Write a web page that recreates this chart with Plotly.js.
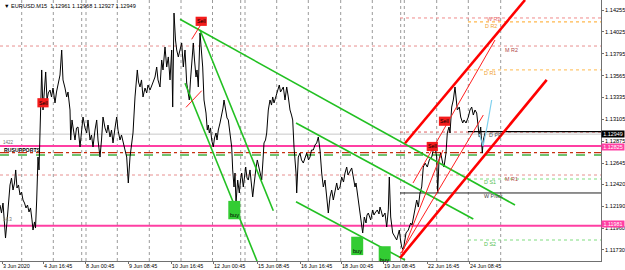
<!DOCTYPE html>
<html><head><meta charset="utf-8">
<script src="https://cdn.plot.ly/plotly-3.0.1.min.js"></script>
<style>html,body{margin:0;padding:0;background:#fff;}#chart{width:625px;height:270px;}</style>
</head><body><div id="chart"></div>
<script>
// ---- price series (bar position, close) ----
const barX = [
0,1.5,3,4.5,5.5,7,8.5,10,11.5,13,
14.5,15.7,17,18.5,20,21.5,23,24.5,26,27.5,
29,30.5,32,33,34.5,35.5,36.7,38,39,40,
41.7,43,44,45.7,47,48.3,50,51.5,53,55,
56.5,58.3,60,61.7,63,65,66.7,68,70,70.7,
72,73,75,76.5,78,80,81.5,83,85,86.7,
88,90,91.5,93,95,96.7,98,100,101.5,103,
105,106.7,108,110,111.5,113,115,116.7,118,120,
121.5,123,125,126.7,128.3,130,131.5,133,135,137.3,
138.5,140,141.5,143,145,146.7,148,150,
152,155,156.7,158,160,161.7,163,165,166.7,168.3,
170,171.7,172.7,174,175.5,176.7,178.3,180,181.7,183.3,
185,186.7,188,189.3,190.5,191.7,193.3,194.5,196,197,
198.3,200,201.7,202.7,204,206,207.3,208.3,209.3,210.5,
211.7,213.3,214.5,216,217,218.3,220,221.7,223,224,
225,226,227,228.3,230,231.7,232.7,234,235,236,
237.7,239.3,240.5,241.7,243.3,244.5,245.7,247,248.3,250,
251.5,252.7,254,255,256,257.3,258.5,260,261.7,263,
264,265.5,266.7,268.3,270,271.5,272.7,274,275,276.7,
278,279.3,280.5,281.7,283.3,285,286.7,288.3,290,291.5,
292.7,294,295,296,296.7,298.3,300,
301.5,303.3,305,306.7,308.5,310,311.5,313.3,315,316.7,
318.3,320,321.7,323.3,325,326.7,328.3,330,331.7,333.3,
335,336.7,338,340,341.7,343.5,345,346.7,348,349.3,
351.7,353.3,355,356,357.3,359.3,361,362.7,364.3,366,
367,368.3,370,370.7,372.7,374,375,377.3,379,380,
381.5,382.7,385,386.7,388.3,389.3,390.7,392.7,395,396.7,
398,399.3,400.5,401.7,403.3,405,406,408.3,410.7,412,
413.3,415,416.7,418.3,420,421.7,423.3,425,427.3,429.3,
431.7,433.3,435,436.7,437.7,439,440.7,442.7,444,446,
447.3,449,450,
451.7,453.3,455,456,457.3,459.3,460.7,462.7,464,466,
468.3,470,471.7,473.3,475,476.7,478.3,479.3,480.7,481.7,
482.3,483.3,485
];
const closePrice = [
1.12203,1.12119,1.12224,1.11993,1.11856,1.12025,1.12256,1.12414,1.12487,1.12361,
1.12435,1.12572,1.12382,1.12414,1.12309,1.12340,1.12256,1.12224,1.12172,1.12203,
1.12130,1.12172,1.12046,1.11940,1.12025,1.11961,1.12256,1.12708,1.12572,1.12961,
1.13624,1.13203,1.13361,1.13603,1.13308,1.13382,1.13413,1.13340,1.13434,1.13277,
1.13392,1.13487,1.13571,1.13834,1.13519,1.13434,1.13340,1.13392,1.13203,1.12887,
1.13098,1.13024,1.12887,1.13014,1.13024,1.12814,1.12992,1.13129,1.13014,1.12961,
1.13098,1.12887,1.12940,1.12814,1.12992,1.13098,1.12887,1.12708,1.12887,1.13129,
1.13014,1.12961,1.13045,1.12919,1.12992,1.12856,1.13014,1.13129,1.12992,1.12887,
1.12940,1.12856,1.12782,1.12708,1.12435,1.12708,1.12835,1.12961,1.13340,1.13624,
1.13497,1.13445,1.13519,1.13340,1.13434,1.13382,1.13466,1.13413,
1.13466,1.13550,1.13655,1.13519,1.13445,1.13729,1.13624,1.13866,1.13655,1.13761,
1.13519,1.13834,1.13234,1.14223,1.13939,1.13834,1.13761,1.13834,1.13908,1.13655,
1.13834,1.13487,1.13361,1.13308,1.13519,1.13729,1.13908,1.13729,1.13550,1.13624,
1.13445,1.14013,1.13834,1.13655,1.13308,1.13171,1.12992,1.13045,1.12961,1.13014,
1.12887,1.12814,1.12908,1.12961,1.12887,1.12992,1.13066,1.13150,1.13224,1.13308,
1.13255,1.13203,1.13119,1.13098,1.12919,1.12814,1.12572,1.12393,1.12540,1.12224,
1.12466,1.12330,1.12466,1.12540,1.12393,1.12519,1.12603,1.12487,1.12466,1.12572,
1.12414,1.12288,1.12414,1.12540,1.12593,1.12677,1.12624,1.12572,1.12466,1.12677,
1.12856,1.12887,1.12961,1.13203,1.13308,1.13255,1.13340,1.13277,1.13308,1.13382,
1.13413,1.13466,1.13392,1.13413,1.13445,1.13308,1.13445,1.13340,1.13203,1.13150,
1.13098,1.12814,1.12677,1.12540,1.12330,1.12708,1.12750,
1.12677,1.12645,1.12698,1.12750,1.12677,1.12708,1.12782,1.12782,1.12835,1.12856,
1.12919,1.12782,1.12540,1.12393,1.12466,1.12256,1.12119,1.12288,1.12361,1.12256,
1.12361,1.12435,1.12361,1.12393,1.12498,1.12445,1.12540,1.12603,1.12519,1.12540,
1.12593,1.12498,1.12393,1.12435,1.12330,1.12182,1.12046,1.11909,1.12077,1.12014,
1.12098,1.12119,1.12067,1.12046,1.12151,1.12098,1.12119,1.12151,1.12109,1.12182,
1.12130,1.12077,1.12119,1.11972,1.12151,1.12498,1.12077,1.11909,1.11867,1.11835,
1.11888,1.11940,1.11835,1.11762,1.11730,1.11835,1.11909,1.11940,1.12014,1.11993,
1.12077,1.12151,1.12256,1.12182,1.12330,1.12393,1.12603,1.12645,1.12603,1.12677,
1.12708,1.12782,1.12814,1.12708,1.12330,1.12677,1.12750,1.12645,1.12603,1.12750,
1.12961,1.13024,1.12961,
1.13234,1.13308,1.13445,1.13340,1.13203,1.13234,1.13129,1.13066,1.13098,1.13066,
1.13129,1.13203,1.13234,1.13150,1.13203,1.13171,1.13024,1.12919,1.13024,1.12814,
1.12750,1.12887,1.12961
];

// ---- axes ----
const timeTickPos = [2,43,85,128,171,213,257,300,341,383,427,469];
const timeTickLabels = ['3 Jun 2020','4 Jun 16:45','8 Jun 00:45','9 Jun 08:45','10 Jun 16:45','12 Jun 00:45','15 Jun 08:45','16 Jun 16:45','18 Jun 00:45','19 Jun 08:45','22 Jun 16:45','24 Jun 08:45'];
const gridPos = [21.7,53.3,81.7,86,117.3,149.3,181,212.5,240.7,245,276.7,308.3,340.7,372.3,400.7,404.3,436.7,468.3,500.7];
const priceTicks = [1.14255,1.14025,1.13795,1.13565,1.13335,1.13105,1.12875,1.12645,1.12420,1.12190,1.11960,1.11730];

// ---- horizontal levels ----
const levelNames  = ['W R2','D R2','M R2','D R1','D PP','PP line','Bid','Res','DashR','DashG','M R1','D S1','W Pivot','Sup','D S2'];
const levelPrice  = [1.14171,1.14129,1.13876,1.13624,1.12971,1.12975,1.12949,1.12825,1.12754,1.12730,1.12519,1.12477,1.12330,1.11985,1.11835];
const levelStart  = [400,468,0,468,400,468,0,0,0,0,0,468,400,0,468];
const levelStyle  = [
 {c:'#f08a8a',w:1,d:'dot'},{c:'#ffb84d',w:1.2,d:'dot'},{c:'#e89090',w:1,d:'dot'},{c:'#ffc870',w:1.2,d:'dot'},
 {c:'#e06060',w:1,d:'dot'},{c:'#000000',w:1.3,d:'solid'},{c:'#c8c8c8',w:1,d:'solid'},{c:'#ff3fa3',w:2,d:'solid'},
 {c:'#c83010',w:1.4,d:'dashdot'},{c:'#40b040',w:1.4,d:'dash'},{c:'#e89090',w:1,d:'dot'},{c:'#80dd80',w:1.2,d:'dot'},
 {c:'#202020',w:1,d:'solid'},{c:'#ff3fa3',w:2,d:'solid'},{c:'#80dd80',w:1.2,d:'dot'}
];
const levelLabels = [
 {i:0,t:'W R2',x:485,c:'#e86a6a',s:-1.2},{i:1,t:'D R2',x:483,c:'#f0a030',s:-4.5},{i:2,t:'M R2',x:503,c:'#b04848',s:-3.5},
 {i:3,t:'D R1',x:482,c:'#f0a030',s:-3.5},{i:4,t:'D PP',x:487,c:'#505050',s:-3},{i:10,t:'M R1',x:503,c:'#b04848',s:-3.5},
 {i:11,t:'D S1',x:482,c:'#50c050',s:-3.5},{i:12,t:'W Pivot',x:482,c:'#404040',s:-3.5},{i:14,t:'D S2',x:482,c:'#50c050',s:-3.5}
];

// ---- trend lines [x0, p0, x1, p1] ----
const greenLines = [[180,1.14157,515,1.12203],[200,1.14045,273.3,1.12143],[185,1.13484,257,1.11614],[296,1.13066,473.3,1.12056],[296,1.12238,405,1.11625]];
const redThick = [[405,1.12853,525,1.14360],[400,1.11646,546.7,1.13519]];
const redThin = [[413,1.12435,495,1.13939],[401,1.11698,483.3,1.13150],[402,1.11698,443,1.12782],[191.7,1.13947,203.3,1.14142],[186,1.13231,201.7,1.13406]];
const cyanX = [479.3,483,487,491.7];
const cyanPrice = [1.12950,1.12824,1.13024,1.13308];

// ---- signals ----
const sellX = [43,201.2,432.3,444.5];
const sellPrice = [1.13279,1.14136,1.12819,1.13085];
const buyX = [234.3,357.2,384.7];
const buyPrice = [1.12150,1.11773,1.11673];

const FONT = 'Liberation Sans, Arial, sans-serif';
const traces = [];
function seg(l, color, width){
  traces.push({x:[l[0],l[2]], y:[l[1],l[3]], mode:'lines', line:{color:color,width:width}, hoverinfo:'skip', showlegend:false});
}
traces.push({x:barX, y:closePrice, mode:'lines', line:{color:'#000',width:1}, hoverinfo:'skip', showlegend:false});
greenLines.forEach(l=>seg(l,'#22c022',1.6));
redThin.forEach(l=>seg(l,'#ff2020',1));
redThick.forEach(l=>seg(l,'#ff0000',2.6));
traces.push({x:cyanX, y:cyanPrice, mode:'lines', line:{color:'#7fd0ee',width:1.2}, hoverinfo:'skip', showlegend:false});

const shapes = [];
gridPos.forEach(g=>shapes.push({type:'line',xref:'x',yref:'paper',x0:g,x1:g,y0:0,y1:1,line:{color:'#9a9a9a',width:1,dash:'dot'},layer:'below'}));
levelPrice.forEach((p,i)=>shapes.push({type:'line',xref:'x',yref:'y',x0:levelStart[i],x1:601,y0:p,y1:p,line:{color:levelStyle[i].c,width:levelStyle[i].w,dash:levelStyle[i].d},layer:'below'}));
const ppx = 0.000105;
sellX.forEach((x,i)=>shapes.push({type:'rect',xref:'x',yref:'y',x0:x-5.6,x1:x+5.6,y0:sellPrice[i]-4.6*ppx,y1:sellPrice[i]+4.6*ppx,fillcolor:'#f41c1c',line:{width:0},layer:'above'}));
buyX.forEach((x,i)=>shapes.push({type:'rect',xref:'x',yref:'y',x0:x-6,x1:x+6,y0:buyPrice[i]-9.2*ppx,y1:buyPrice[i]+9.2*ppx,fillcolor:'#33cc33',line:{width:0},layer:'above'}));

const ann = [];
ann.push({xref:'paper',yref:'paper',x:0.003,y:0.995,xanchor:'left',yanchor:'top',showarrow:false,text:'▼ EURUSD.M15  1.12961 1.12968 1.12927 1.12949',font:{family:FONT,size:5.6,color:'#000'}});
levelLabels.forEach(L=>ann.push({x:L.x,y:levelPrice[L.i],yshift:L.s,xanchor:'left',yanchor:'middle',showarrow:false,text:L.t,font:{family:FONT,size:5.4,color:L.c}}));
sellX.forEach((x,i)=>ann.push({x:x,y:sellPrice[i],xanchor:'center',yanchor:'middle',showarrow:false,text:'Sell',font:{family:FONT,size:5.2,color:'#000'}}));
buyX.forEach((x,i)=>ann.push({x:x,y:buyPrice[i]-5*ppx,xanchor:'center',yanchor:'middle',showarrow:false,text:'buy',font:{family:FONT,size:5.6,color:'#000'}}));
const boxes = [{p:levelPrice[6],bg:'#000000',s:0},{p:levelPrice[7],bg:'#ff3fa3',s:-0.8},{p:levelPrice[13],bg:'#ff3fa3',s:1.8}];
const boxText = ['1.12949','1.12825','1.11981'];
boxes.forEach((b,i)=>ann.push({xref:'paper',yref:'y',x:1,y:b.p,yshift:b.s,xanchor:'left',yanchor:'middle',showarrow:false,text:boxText[i],bgcolor:b.bg,borderpad:0,width:22,height:6,font:{family:FONT,size:5.4,color:'#fff'}}));
ann.push({x:1,y:1.12866,xanchor:'left',yanchor:'middle',showarrow:false,text:'1422',font:{family:FONT,size:4.5,color:'#707070'}});
ann.push({x:1,y:1.12046,xanchor:'left',yanchor:'middle',showarrow:false,text:'14.3',font:{family:FONT,size:4.5,color:'#707070'}});
ann.push({x:2,y:1.12780,xanchor:'left',yanchor:'middle',showarrow:false,text:'<b>RUSUPPORTS</b>',font:{family:FONT,size:5.2,color:'#000'}});

const layout = {
  width:625, height:270,
  margin:{l:0,r:24,t:0,b:9,pad:0},
  paper_bgcolor:'#fff', plot_bgcolor:'#fff',
  showlegend:false,
  xaxis:{range:[0,601],showgrid:false,zeroline:false,showline:true,linecolor:'#707070',linewidth:1,
    tickmode:'array',tickvals:timeTickPos,ticktext:timeTickLabels,ticks:'outside',ticklen:2,tickcolor:'#707070',
    ticklabelposition:'outside right',tickfont:{family:FONT,size:5.4,color:'#000'},automargin:false,fixedrange:true},
  yaxis:{range:[1.116142,1.143602],side:'right',showgrid:false,zeroline:false,showline:true,mirror:true,linecolor:'#707070',linewidth:1,
    tickmode:'array',tickvals:priceTicks,ticktext:priceTicks.map(v=>v.toFixed(5)),ticks:'outside',ticklen:2,tickcolor:'#707070',
    tickfont:{family:FONT,size:5.6,color:'#000'},automargin:false,fixedrange:true},
  shapes:shapes, annotations:ann
};
Plotly.newPlot('chart', traces, layout, {staticPlot:true, displayModeBar:false});
</script></body></html>
